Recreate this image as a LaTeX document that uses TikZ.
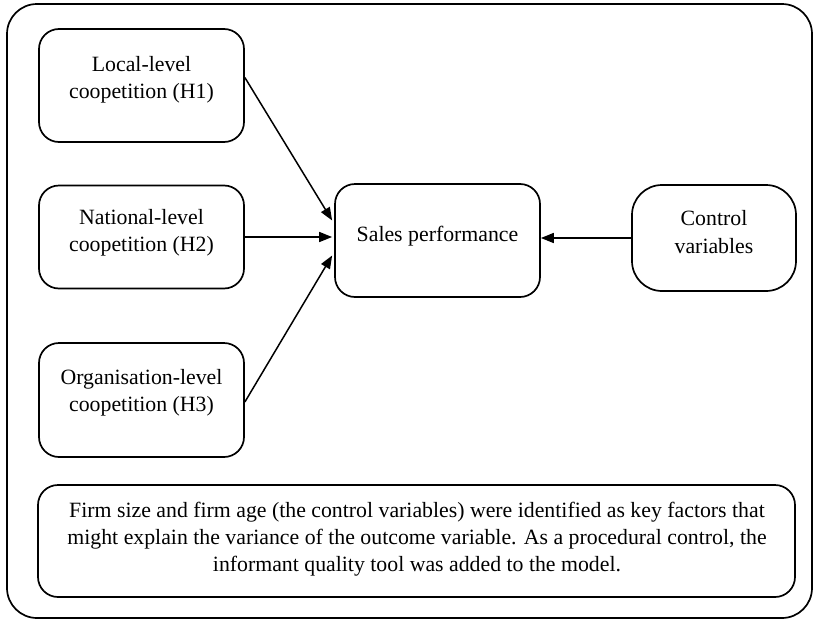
\documentclass[tikz,border=0pt]{standalone}
\usepackage{fontspec}
\setmainfont{Liberation Serif}
\usetikzlibrary{arrows.meta}
\begin{document}
\begin{tikzpicture}[x=1pt,y=-1pt,
  box/.style={draw,line width=1.7pt,rounded corners=20pt,inner sep=0pt},
  txt/.style={align=center,font=\fontsize{21.8}{27.3}\selectfont,inner sep=0pt},
  arr/.style={line width=1.5pt,-{Triangle[length=13pt,width=10pt]}}]
\useasboundingbox (0,0) rectangle (819,624);
\node[box,rounded corners=30pt,minimum width=805pt,minimum height=614pt] (frame) at (409.5,311) {};
\node[box,minimum width=205pt,minimum height=113pt] (l) at (141.5,85.5) {};
\node[box,minimum width=205pt,minimum height=103pt] (n) at (141.5,237) {};
\node[box,minimum width=205pt,minimum height=114pt] (o) at (141.5,400) {};
\node[box,minimum width=205pt,minimum height=113pt] (s) at (437.5,240.5) {};
\node[box,rounded corners=30pt,minimum width=164pt,minimum height=106pt] (c) at (714,238) {};
\node[box,minimum width=757pt,minimum height=112pt] (b) at (416.5,541) {};
\node[txt] (lt) at (141.5,80) {Local-level\\coopetition (H1)};
\node[txt] (nt) at (141.5,233) {National-level\\coopetition (H2)};
\node[txt] (ot) at (141.5,393) {Organisation-level\\coopetition (H3)};
\node[txt] (st) at (437.5,236) {Sales performance};
\node[txt] (ct) at (714,232) {Control\\variables};
\node[txt] (bt) at (417,539) {Firm size and firm age (the control variables) were identified as key factors that\\might explain the variance of the outcome variable. As a procedural control, the\\informant quality tool was added to the model.};
\draw[arr] ([yshift=8pt]l.east) -- ([yshift=20pt,xshift=-2pt]s.west);
\draw[arr] (n.east) -- ([xshift=-2pt]s.west |- n.east);
\draw[arr] ([yshift=-2pt]o.east) -- ([yshift=-15pt,xshift=-2pt]s.west);
\draw[arr] (c.west) -- (s.east |- c.west);
\end{tikzpicture}
\end{document}
